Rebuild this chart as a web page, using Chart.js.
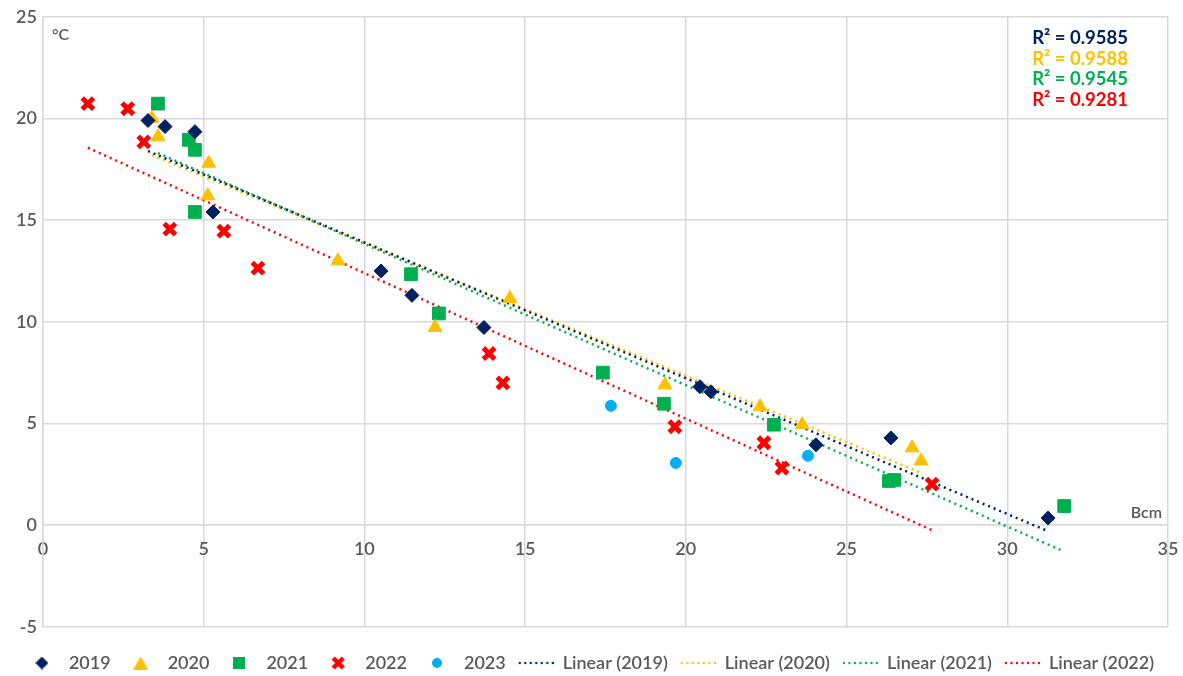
<!DOCTYPE html>
<html>
<head>
<meta charset="utf-8">
<script src="https://cdn.jsdelivr.net/npm/chart.js@4.4.1/dist/chart.umd.min.js"></script>
<style>
  html, body { margin: 0; padding: 0; background: #fff; }
  #wrap { width: 1183px; height: 676px; position: relative; }
</style>
</head>
<body>
<div id="wrap"><canvas id="chart"></canvas></div>
<script>
// measured points (Bcm, °C)
const x2019 = [3.27, 3.80, 4.73, 5.29, 10.52, 11.48, 13.72, 20.44, 20.78, 24.05, 26.38, 31.27];
const y2019 = [19.9, 19.6, 19.35, 15.4, 12.5, 11.3, 9.72, 6.81, 6.56, 3.95, 4.29, 0.35];

const x2020 = [3.39, 3.58, 5.16, 5.13, 9.18, 12.2, 14.53, 19.35, 22.31, 23.62, 27.04, 27.32];
const y2020 = [20.0, 19.1, 17.8, 16.2, 13.0, 9.72, 11.15, 6.9, 5.82, 4.94, 3.8, 3.16];

const x2021 = [3.58, 4.54, 4.73, 4.73, 11.45, 12.32, 17.42, 19.32, 22.74, 26.32, 26.48, 31.77];
const y2021 = [20.73, 18.95, 18.46, 15.4, 12.34, 10.41, 7.5, 5.97, 4.94, 2.17, 2.22, 0.94];

const x2022 = [1.40, 2.64, 3.14, 3.95, 5.63, 6.69, 13.88, 14.31, 19.66, 22.43, 22.99, 27.66];
const y2022 = [20.73, 20.48, 18.85, 14.56, 14.46, 12.64, 8.44, 7.0, 4.84, 4.05, 2.81, 2.02];

const x2023 = [17.67, 19.69, 23.8];
const y2023 = [5.87, 3.06, 3.41];

// trend line end points
const trendX2019 = [3.27, 31.27], trendY2019 = [18.4, -0.3];
const trendX2020 = [3.39, 27.32], trendY2020 = [18.2, 2.57];
const trendX2021 = [3.58, 31.77], trendY2021 = [18.3, -1.3];
const trendX2022 = [1.40, 27.66], trendY2022 = [18.56, -0.25];

const rSquared = ['R\u00B2 = 0.9585', 'R\u00B2 = 0.9588', 'R\u00B2 = 0.9545', 'R\u00B2 = 0.9281'];

const NAVY = '#002060', YELLOW = '#FFC000', GREEN = '#00B050', RED = '#FF0000', BLUE = '#00B0F0';
const GREY_TEXT = '#595959', GRID = '#d9d9d9';
const FONT = 'Lato, "Open Sans", sans-serif';

function pts(xs, ys) {
    return xs.map((x, i) => ({ x: x, y: ys[i] }));
}

function markerSet(label, xs, ys, color, style, radius, extra) {
    return Object.assign({
        label: label,
        data: pts(xs, ys),
        pointStyle: style,
        pointRadius: radius,
        pointHoverRadius: radius,
        backgroundColor: color,
        borderColor: color,
        borderWidth: 1,
        showLine: false
    }, extra || {});
}

function trendSet(label, xs, ys, color) {
    return {
        label: label,
        data: pts(xs, ys),
        showLine: true,
        borderColor: color,
        backgroundColor: color,
        borderWidth: 2.5,
        borderDash: [2, 4],
        pointRadius: 0,
        fill: false
    };
}

// small canvases used as legend symbols
function icon(w, h, paint) {
    const c = document.createElement('canvas');
    c.width = w; c.height = h;
    paint(c.getContext('2d'), w, h);
    return c;
}

const legendIcons = [
    icon(13, 13, (g, w, h) => {
        g.fillStyle = NAVY;
        g.beginPath(); g.moveTo(w / 2, 0); g.lineTo(w, h / 2); g.lineTo(w / 2, h); g.lineTo(0, h / 2); g.closePath(); g.fill();
    }),
    icon(15, 13, (g, w, h) => {
        g.fillStyle = YELLOW;
        g.beginPath(); g.moveTo(w / 2, 0); g.lineTo(w, h); g.lineTo(0, h); g.closePath(); g.fill();
    }),
    icon(12, 12, (g, w, h) => {
        g.fillStyle = GREEN; g.fillRect(0, 0, w, h);
    }),
    icon(14, 14, (g, w, h) => {
        g.strokeStyle = RED; g.lineWidth = 4.5;
        g.beginPath(); g.moveTo(2, 2); g.lineTo(w - 2, h - 2); g.moveTo(w - 2, 2); g.lineTo(2, h - 2); g.stroke();
    }),
    icon(10, 10, (g, w, h) => {
        g.fillStyle = BLUE; g.beginPath(); g.arc(w / 2, h / 2, w / 2, 0, Math.PI * 2); g.fill();
    })
].concat([NAVY, YELLOW, GREEN, RED].map(col => icon(36, 4, (g, w, h) => {
    g.fillStyle = col;
    for (let x = 1; x < w - 1; x += 5.5) {
        g.beginPath(); g.arc(x + 1, h / 2, 1.2, 0, Math.PI * 2); g.fill();
    }
})));

const annotations = {
    id: 'annotations',
    afterDraw(chart) {
        const ctx = chart.ctx;
        const xs = chart.scales.x, ys = chart.scales.y;
        ctx.save();
        ctx.textBaseline = 'middle';
        ctx.fillStyle = GREY_TEXT;
        ctx.font = '600 16px ' + FONT;
        ctx.textAlign = 'left';
        ctx.fillText('\u00B0C', xs.left + 9, 35);
        ctx.textAlign = 'right';
        ctx.fillText('Bcm', xs.right - 6, ys.getPixelForValue(0) - 12);

        const colors = [NAVY, YELLOW, GREEN, RED];
        ctx.font = 'bold 18.5px ' + FONT;
        rSquared.forEach((t, i) => {
            ctx.fillStyle = colors[i];
            ctx.fillText(t, 1128, 38 + i * 20.7);
        });
        ctx.restore();
    }
};

const tickFont = { family: FONT, size: 18, weight: '600' };

new Chart(document.getElementById('chart'), {
    type: 'scatter',
    data: {
        datasets: [
            markerSet('2019', x2019, y2019, NAVY, 'rectRot', 7),
            markerSet('2020', x2020, y2020, YELLOW, 'triangle', 8),
            markerSet('2021', x2021, y2021, GREEN, 'rect', 9),
            markerSet('2022', x2022, y2022, RED, 'crossRot', 8, { borderWidth: 5 }),
            markerSet('2023', x2023, y2023, BLUE, 'circle', 5.5),
            trendSet('Linear (2019)', trendX2019, trendY2019, NAVY),
            trendSet('Linear (2020)', trendX2020, trendY2020, YELLOW),
            trendSet('Linear (2021)', trendX2021, trendY2021, GREEN),
            trendSet('Linear (2022)', trendX2022, trendY2022, RED)
        ]
    },
    options: {
        responsive: true,
        maintainAspectRatio: false,
        animation: false,
        layout: { padding: { left: 10, right: 15, top: 8, bottom: -6 } },
        scales: {
            x: {
                type: 'linear',
                position: { y: 0 },
                min: 0,
                max: 35,
                afterFit(scale) {
                    scale.paddingLeft = 0;
                    scale.paddingRight = 0;
                },
                ticks: { stepSize: 5, color: GREY_TEXT, font: tickFont, padding: 13 },
                grid: { color: GRID, lineWidth: 1.5, drawTicks: false },
                border: { color: GRID, width: 1.5 }
            },
            y: {
                min: -5,
                max: 25,
                ticks: { stepSize: 5, color: GREY_TEXT, font: tickFont, padding: 6 },
                grid: { color: GRID, lineWidth: 1.5, drawTicks: false },
                border: { color: GRID, width: 1.5 }
            }
        },
        plugins: {
            tooltip: { enabled: false },
            legend: {
                position: 'bottom',
                title: { display: true, text: '', font: { size: 1 }, padding: { top: 14, bottom: 0 } },
                labels: {
                    usePointStyle: true,
                    pointStyleWidth: 36,
                    boxHeight: 9,
                    padding: 12,
                    color: GREY_TEXT,
                    font: { family: FONT, size: 18, weight: '600' },
                    generateLabels(chart) {
                        const items = Chart.defaults.plugins.legend.labels.generateLabels(chart);
                        items.forEach((it, i) => { it.pointStyle = legendIcons[i]; });
                        return items;
                    }
                }
            }
        }
    },
    plugins: [annotations]
});
</script>
</body>
</html>
